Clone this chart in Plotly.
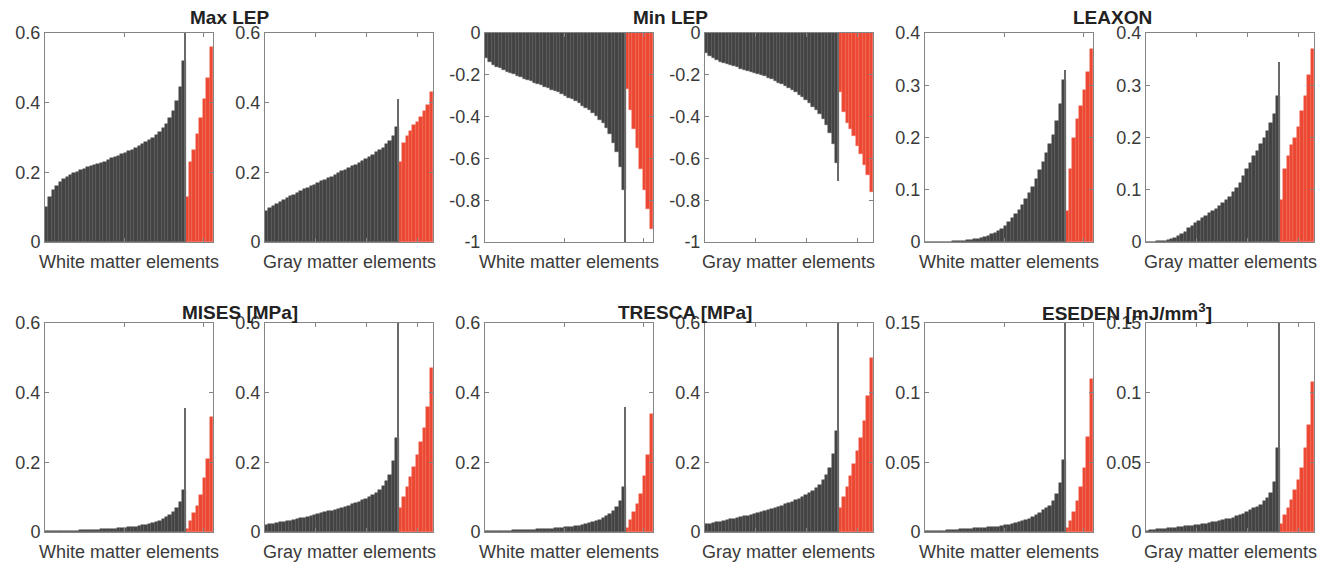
import plotly.graph_objects as go

# ---------------- DATA ----------------
titles = ["Max LEP", "Min LEP", "LEAXON", "MISES [MPa]", "TRESCA [MPa]", "ESEDEN [mJ/mm<sup>3</sup>]"]
xlabels = ["White matter elements", "Gray matter elements"]

max_lep_white_black = [0.10, 0.13, 0.15, 0.162, 0.172, 0.180, 0.188, 0.193, 0.198, 0.202, 0.206, 0.209, 0.214, 0.217,
                       0.220, 0.224, 0.228, 0.231, 0.236, 0.241, 0.245, 0.248, 0.252, 0.256, 0.260, 0.265, 0.269, 0.275,
                       0.280, 0.286, 0.292, 0.298, 0.306, 0.316, 0.327, 0.339, 0.356, 0.377, 0.405, 0.445, 0.52]
max_lep_white_red = [0.13, 0.23, 0.265, 0.31, 0.355, 0.41, 0.47, 0.56]
max_lep_white_peak = 0.62

max_lep_gray_black = [0.088, 0.097, 0.104, 0.110, 0.116, 0.121, 0.127, 0.131, 0.136, 0.141, 0.146, 0.151, 0.156,
                      0.160, 0.165, 0.169, 0.174, 0.179, 0.183, 0.188, 0.193, 0.198, 0.203, 0.208, 0.213, 0.218,
                      0.222, 0.227, 0.233, 0.238, 0.244, 0.250, 0.257, 0.264, 0.271, 0.280, 0.291, 0.305, 0.330]
max_lep_gray_red = [0.23, 0.285, 0.305, 0.32, 0.335, 0.345, 0.36, 0.375, 0.392, 0.43]
max_lep_gray_peak = 0.41

min_lep_white_black = [-0.12, -0.14, -0.153, -0.161, -0.169, -0.177, -0.185, -0.192, -0.198, -0.205, -0.211, -0.218,
                       -0.225, -0.231, -0.238, -0.245, -0.251, -0.258, -0.264, -0.271, -0.277, -0.284, -0.292, -0.301,
                       -0.310, -0.318, -0.327, -0.337, -0.347, -0.358, -0.368, -0.382, -0.398, -0.416, -0.432, -0.455,
                       -0.485, -0.525, -0.57, -0.64, -0.75]
min_lep_white_red = [-0.27, -0.37, -0.46, -0.55, -0.65, -0.75, -0.84, -0.94]
min_lep_white_peak = -1.02

min_lep_gray_black = [-0.097, -0.11, -0.121, -0.129, -0.137, -0.145, -0.150, -0.155, -0.160, -0.165, -0.170, -0.175,
                      -0.180, -0.185, -0.190, -0.195, -0.200, -0.207, -0.215, -0.222, -0.229, -0.237, -0.245, -0.254,
                      -0.263, -0.273, -0.284, -0.296, -0.308, -0.32, -0.335, -0.352, -0.37, -0.386, -0.41, -0.44,
                      -0.48, -0.53, -0.62]
min_lep_gray_red = [-0.28, -0.38, -0.43, -0.46, -0.495, -0.54, -0.58, -0.63, -0.68, -0.76]
min_lep_gray_peak = -0.71

leaxon_white_black = [0.0, 0.0, 0.0001, 0.0002, 0.0003, 0.0005, 0.0007, 0.0009, 0.0011, 0.0015, 0.002, 0.0026, 0.0033,
                      0.004, 0.0048, 0.006, 0.0075, 0.0095, 0.012, 0.015, 0.018, 0.021, 0.025, 0.031, 0.039, 0.046,
                      0.053, 0.062, 0.071, 0.082, 0.093, 0.105, 0.12, 0.137, 0.153, 0.17, 0.187, 0.205, 0.232, 0.265,
                      0.31]
leaxon_white_red = [0.06, 0.14, 0.2, 0.235, 0.26, 0.29, 0.325, 0.37]
leaxon_white_peak = 0.33

leaxon_gray_black = [0.0, 0.0, 0.0005, 0.001, 0.0015, 0.0025, 0.004, 0.0055, 0.008, 0.011, 0.015, 0.02, 0.026, 0.031,
                     0.037, 0.041, 0.046, 0.05, 0.055, 0.059, 0.064, 0.069, 0.075, 0.081, 0.086, 0.095, 0.104, 0.113,
                     0.126, 0.14, 0.152, 0.164, 0.175, 0.187, 0.2, 0.213, 0.227, 0.245, 0.28]
leaxon_gray_red = [0.08, 0.14, 0.165, 0.185, 0.2, 0.22, 0.25, 0.28, 0.32, 0.37]
leaxon_gray_peak = 0.345

mises_white_black = [0.002, 0.002, 0.0025, 0.0027, 0.003, 0.0032, 0.0035, 0.0038, 0.004, 0.0043, 0.0047, 0.005,
                     0.0055, 0.006, 0.0065, 0.007, 0.0075, 0.008, 0.0088, 0.0094, 0.01, 0.0105, 0.011, 0.012, 0.013,
                     0.0138, 0.015, 0.017, 0.019, 0.021, 0.024, 0.026, 0.029, 0.033, 0.037, 0.042, 0.048, 0.056,
                     0.068, 0.085, 0.12]
mises_white_red = [0.01, 0.033, 0.055, 0.076, 0.105, 0.155, 0.21, 0.33]
mises_white_peak = 0.355

mises_gray_black = [0.02, 0.022, 0.024, 0.026, 0.0275, 0.029, 0.031, 0.033, 0.035, 0.037, 0.039, 0.041, 0.043, 0.046,
                    0.048, 0.051, 0.054, 0.056, 0.059, 0.061, 0.064, 0.067, 0.07, 0.072, 0.075, 0.079, 0.082, 0.086,
                    0.091, 0.095, 0.1, 0.106, 0.113, 0.12, 0.133, 0.147, 0.165, 0.205, 0.27]
mises_gray_red = [0.07, 0.1, 0.128, 0.157, 0.188, 0.222, 0.258, 0.3, 0.36, 0.47]
mises_gray_peak = 0.62

tresca_white_black = [0.002, 0.0023, 0.0026, 0.0029, 0.0032, 0.0035, 0.0038, 0.0041, 0.0045, 0.0048, 0.0052, 0.0056,
                      0.006, 0.0065, 0.007, 0.0075, 0.008, 0.0086, 0.0093, 0.01, 0.0107, 0.0115, 0.0122, 0.013, 0.014,
                      0.015, 0.0165, 0.018, 0.02, 0.022, 0.025, 0.028, 0.031, 0.035, 0.04, 0.045, 0.052, 0.061, 0.073,
                      0.09, 0.13]
tresca_white_red = [0.012, 0.035, 0.058, 0.08, 0.11, 0.16, 0.22, 0.34]
tresca_white_peak = 0.36

tresca_gray_black = [0.022, 0.024, 0.026, 0.028, 0.03, 0.032, 0.034, 0.036, 0.038, 0.04, 0.042, 0.045, 0.047, 0.05,
                     0.052, 0.055, 0.058, 0.061, 0.064, 0.067, 0.07, 0.073, 0.076, 0.08, 0.083, 0.087, 0.091, 0.096,
                     0.101, 0.106, 0.112, 0.119, 0.127, 0.135, 0.148, 0.163, 0.185, 0.225, 0.29]
tresca_gray_red = [0.07, 0.1, 0.13, 0.16, 0.195, 0.232, 0.27, 0.32, 0.39, 0.5]
tresca_gray_peak = 0.62

eseden_white_black = [0.0005, 0.0006, 0.0007, 0.0008, 0.0009, 0.001, 0.0011, 0.0013, 0.0015, 0.0017, 0.0019, 0.002,
                      0.0022, 0.0024, 0.0026, 0.0028, 0.003, 0.0031, 0.0033, 0.0035, 0.0036, 0.0038, 0.0042, 0.0047,
                      0.0052, 0.0058, 0.0064, 0.007, 0.0077, 0.0085, 0.0095, 0.0107, 0.012, 0.0135, 0.0155, 0.017,
                      0.019, 0.022, 0.027, 0.035, 0.052]
eseden_white_red = [0.003, 0.008, 0.0145, 0.022, 0.032, 0.046, 0.068, 0.11]
eseden_white_peak = 0.16

eseden_gray_black = [0.0008, 0.0011, 0.0015, 0.0018, 0.0021, 0.0024, 0.0027, 0.003, 0.0032, 0.0035, 0.0037, 0.004,
                     0.0043, 0.0046, 0.0049, 0.0052, 0.0056, 0.006, 0.0064, 0.0069, 0.0074, 0.0079, 0.0084, 0.009,
                     0.0095, 0.0103, 0.0112, 0.0121, 0.013, 0.014, 0.0155, 0.017, 0.0182, 0.0195, 0.022, 0.0245,
                     0.028, 0.036, 0.06]
eseden_gray_red = [0.006, 0.012, 0.017, 0.023, 0.03, 0.037, 0.046, 0.06, 0.077, 0.108]
eseden_gray_peak = 0.16

y_ranges = [[0, 0.6], [-1, 0], [0, 0.4], [0, 0.6], [0, 0.6], [0, 0.15]]
y_tickvals = [[0, 0.2, 0.4, 0.6], [-1, -0.8, -0.6, -0.4, -0.2, 0], [0, 0.1, 0.2, 0.3, 0.4],
              [0, 0.2, 0.4, 0.6], [0, 0.2, 0.4, 0.6], [0, 0.05, 0.1, 0.15]]
y_ticktext = [["0", "0.2", "0.4", "0.6"], ["-1", "-0.8", "-0.6", "-0.4", "-0.2", "0"],
              ["0", "0.1", "0.2", "0.3", "0.4"], ["0", "0.2", "0.4", "0.6"], ["0", "0.2", "0.4", "0.6"],
              ["0", "0.05", "0.1", "0.15"]]

panels = [
    (0, 0, max_lep_white_black, max_lep_white_red, max_lep_white_peak),
    (0, 1, max_lep_gray_black, max_lep_gray_red, max_lep_gray_peak),
    (1, 0, min_lep_white_black, min_lep_white_red, min_lep_white_peak),
    (1, 1, min_lep_gray_black, min_lep_gray_red, min_lep_gray_peak),
    (2, 0, leaxon_white_black, leaxon_white_red, leaxon_white_peak),
    (2, 1, leaxon_gray_black, leaxon_gray_red, leaxon_gray_peak),
    (3, 0, mises_white_black, mises_white_red, mises_white_peak),
    (3, 1, mises_gray_black, mises_gray_red, mises_gray_peak),
    (4, 0, tresca_white_black, tresca_white_red, tresca_white_peak),
    (4, 1, tresca_gray_black, tresca_gray_red, tresca_gray_peak),
    (5, 0, eseden_white_black, eseden_white_red, eseden_white_peak),
    (5, 1, eseden_gray_black, eseden_gray_red, eseden_gray_peak),
]

# ---------------- STYLE / LAYOUT ----------------
PAGE_OFF = 8                      # default body margin of the html page
W, H = 1329 - PAGE_OFF, 565 - PAGE_OFF
col_left = [45, 265, 485, 705, 925, 1146]
ax_w = 168
row_top = [33, 323]
ax_h = 209
title_cx = [230, 670, 1112, 240, 685, 1127]
title_cy = [18, 312]
xtick_frac = [[0.472, 0.944], [0.303, 0.604, 0.907]]

BLACK = "#434343"
RED = "#EC4733"
AXC = "#858585"
TXT = "#3a3a3a"
FONT = "Liberation Sans, Arial, sans-serif"


def px(x):
    return (x - PAGE_OFF) / W


def py(y):
    return 1 - (y - PAGE_OFF) / H


fig = go.Figure()
layout = dict(template="none", width=W, height=H, autosize=False, margin=dict(l=0, r=0, t=0, b=0, pad=0),
              paper_bgcolor="white", plot_bgcolor="white", showlegend=False, barmode="overlay", bargap=0,
              font=dict(family=FONT, size=18, color=TXT))
annotations = []

for k, (m, g, blk, red, peak) in enumerate(panels):
    row = m // 3
    col = (m % 3) * 2 + g
    idx = k + 1
    xa = "x" if idx == 1 else f"x{idx}"
    ya = "y" if idx == 1 else f"y{idx}"
    nb, nr = len(blk), len(red)
    n = nb + nr
    fig.add_trace(go.Bar(x=list(range(nb)), y=blk, marker=dict(color=BLACK, line=dict(width=0.5, color="#5a5a5a")),
                         xaxis=xa, yaxis=ya, hoverinfo="y"))
    fig.add_trace(go.Bar(x=list(range(nb, n)), y=red, marker=dict(color=RED, line=dict(width=0.5, color="#f26a57")),
                         xaxis=xa, yaxis=ya, hoverinfo="y"))
    fig.add_trace(go.Bar(x=[nb - 1], y=[peak], width=[0.3], offset=0.2,
                         marker=dict(color="#6a6a6a", line=dict(width=0)), xaxis=xa, yaxis=ya, hoverinfo="y"))

    x0 = col_left[col]
    y0 = row_top[row]
    xkey = "xaxis" if idx == 1 else f"xaxis{idx}"
    ykey = "yaxis" if idx == 1 else f"yaxis{idx}"
    layout[xkey] = dict(domain=[px(x0), px(x0 + ax_w)], anchor=ya, range=[-0.5, n - 0.5], automargin=False,
                        tickmode="array", tickvals=[-0.5 + n * f for f in xtick_frac[g]], showticklabels=False,
                        ticks="inside", ticklen=4, tickwidth=1, tickcolor=AXC, showline=True, linecolor=AXC,
                        linewidth=1, mirror="allticks", showgrid=False, zeroline=False, fixedrange=True)
    layout[ykey] = dict(domain=[py(y0 + ax_h), py(y0)], anchor=xa, range=y_ranges[m], automargin=False,
                        tickmode="array", tickvals=y_tickvals[m], ticktext=y_ticktext[m], ticks="inside",
                        ticklen=4, tickwidth=1, tickcolor=AXC, showline=True, linecolor=AXC, linewidth=1,
                        mirror="allticks", showgrid=False, zeroline=False,
                        tickfont=dict(size=18, color=TXT, family=FONT), fixedrange=True)
    annotations.append(dict(text=xlabels[g], x=px(x0 + ax_w / 2), y=py(y0 + ax_h + 20), xref="paper",
                            yref="paper", xanchor="center", yanchor="middle", showarrow=False,
                            font=dict(size=18, color=TXT, family=FONT)))

for m in range(6):
    annotations.append(dict(text=f"<b>{titles[m]}</b>", x=px(title_cx[m]), y=py(title_cy[m // 3]),
                            xref="paper", yref="paper", xanchor="center", yanchor="middle",
                            showarrow=False, font=dict(size=19, color="#222222", family=FONT)))

layout["annotations"] = annotations
fig.update_layout(**layout)
fig.write_html("out.html")
